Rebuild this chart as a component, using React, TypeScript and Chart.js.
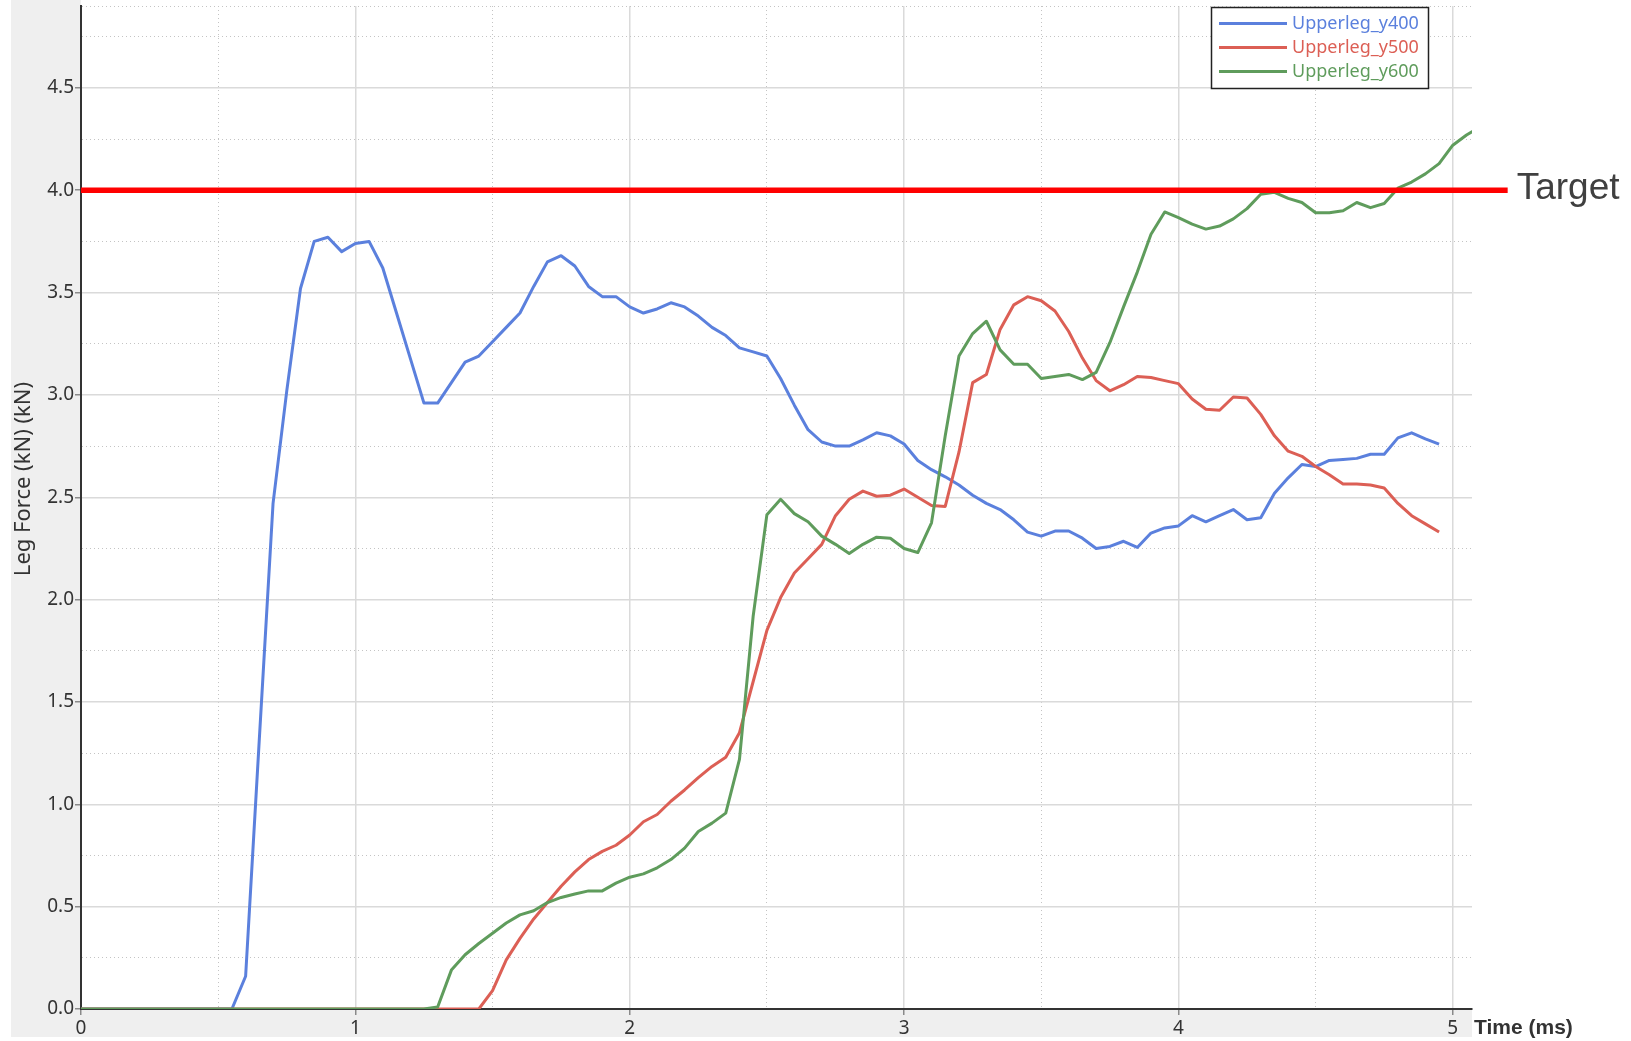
import React, { useEffect, useRef } from 'react';
import { Chart, registerables } from 'chart.js';

Chart.register(...registerables);

// ---- data -----------------------------------------------------------------
const TIME = [
  0, 0.05, 0.1, 0.15, 0.2, 0.25, 0.3, 0.35, 0.4, 0.45,
  0.5, 0.55, 0.6, 0.65, 0.7, 0.75, 0.8, 0.85, 0.9, 0.95,
  1, 1.05, 1.1, 1.15, 1.2, 1.25, 1.3, 1.35, 1.4, 1.45,
  1.5, 1.55, 1.6, 1.65, 1.7, 1.75, 1.8, 1.85, 1.9, 1.95,
  2, 2.05, 2.1, 2.15, 2.2, 2.25, 2.3, 2.35, 2.4, 2.45,
  2.5, 2.55, 2.6, 2.65, 2.7, 2.75, 2.8, 2.85, 2.9, 2.95,
  3, 3.05, 3.1, 3.15, 3.2, 3.25, 3.3, 3.35, 3.4, 3.45,
  3.5, 3.55, 3.6, 3.65, 3.7, 3.75, 3.8, 3.85, 3.9, 3.95,
  4, 4.05, 4.1, 4.15, 4.2, 4.25, 4.3, 4.35, 4.4, 4.45,
  4.5, 4.55, 4.6, 4.65, 4.7, 4.75, 4.8, 4.85, 4.9, 4.95,
  5, 5.05, 5.1,
];

const UPPERLEG_Y400 = [
  0, 0, 0, 0, 0, 0, 0, 0, 0, 0, 0, 0,
  0.16, 1.32, 2.47, 3.02, 3.52, 3.75, 3.77, 3.70, 3.74, 3.75,
  3.62, 3.40, 3.18, 2.96, 2.96, 3.06, 3.16, 3.19, 3.26, 3.33,
  3.40, 3.53, 3.65, 3.68, 3.63, 3.53, 3.48, 3.48, 3.43, 3.40,
  3.42, 3.45, 3.43, 3.385, 3.33, 3.29, 3.23, 3.21, 3.19, 3.08,
  2.95, 2.83, 2.77, 2.75, 2.75, 2.78, 2.815, 2.80, 2.76, 2.68,
  2.635, 2.60, 2.56, 2.51, 2.47, 2.44, 2.39, 2.33, 2.31, 2.335,
  2.335, 2.30, 2.25, 2.26, 2.285, 2.255, 2.325, 2.35, 2.36, 2.41,
  2.38, 2.41, 2.44, 2.39, 2.40, 2.52, 2.595, 2.66, 2.65, 2.68,
  2.685, 2.69, 2.71, 2.71, 2.79, 2.815, 2.785, 2.76,
];

const UPPERLEG_Y500 = [
  0, 0, 0, 0, 0, 0, 0, 0, 0, 0, 0, 0, 0, 0, 0,
  0, 0, 0, 0, 0, 0, 0, 0, 0, 0, 0, 0, 0, 0, 0,
  0.09, 0.24, 0.345, 0.44, 0.52, 0.60, 0.67, 0.73, 0.77, 0.80,
  0.85, 0.915, 0.95, 1.015, 1.07, 1.13, 1.185, 1.23, 1.35, 1.60,
  1.85, 2.01, 2.13, 2.20, 2.27, 2.41, 2.49, 2.53, 2.505, 2.51,
  2.54, 2.50, 2.46, 2.455, 2.72, 3.06, 3.10, 3.32, 3.44, 3.48,
  3.46, 3.41, 3.31, 3.18, 3.07, 3.02, 3.05, 3.09, 3.085, 3.07,
  3.055, 2.98, 2.93, 2.925, 2.99, 2.985, 2.905, 2.80, 2.725, 2.70,
  2.65, 2.61, 2.565, 2.565, 2.56, 2.545, 2.47, 2.41, 2.37, 2.33,
];

const UPPERLEG_Y600 = [
  0, 0, 0, 0, 0, 0, 0, 0, 0, 0, 0, 0, 0,
  0, 0, 0, 0, 0, 0, 0, 0, 0, 0, 0, 0, 0,
  0.01, 0.19, 0.265, 0.32,
  0.37, 0.42, 0.46, 0.48, 0.52, 0.545, 0.562, 0.577, 0.577, 0.615,
  0.644, 0.66, 0.69, 0.73, 0.786, 0.867, 0.908, 0.957, 1.22, 1.92,
  2.415, 2.49, 2.42, 2.38, 2.31, 2.27, 2.225, 2.27, 2.305, 2.30,
  2.25, 2.23, 2.375, 2.80, 3.19, 3.30, 3.36, 3.22, 3.15, 3.15,
  3.08, 3.09, 3.10, 3.075, 3.11, 3.255, 3.43, 3.60, 3.785, 3.894,
  3.866, 3.834, 3.81, 3.825, 3.86, 3.91, 3.98, 3.99, 3.96, 3.94,
  3.89, 3.89, 3.90, 3.94, 3.915, 3.935, 4.01, 4.04, 4.08, 4.13,
  4.22, 4.27, 4.31,
];

const TARGET_TIME = [0, 5.2];
const TARGET_FORCE = [4.0, 4.0];

const SERIES_LABELS = ['Upperleg_y400', 'Upperleg_y500', 'Upperleg_y600'];
const SERIES_COLORS = ['#5b80dd', '#dc5f55', '#5f9c5c'];
const TARGET_LABEL = 'Target';
const X_TITLE = 'Time (ms)';
const Y_TITLE = 'Leg Force (kN) (kN)';

const X_MIN = 0;
const X_MAX = 5.07;
const Y_MIN = 0;
const Y_MAX = 4.9;

// ---- helpers ---------------------------------------------------------------
const pairs = (xs: number[], ys: number[]) => ys.map((y, i) => ({ x: xs[i], y }));
const onStep = (v: number, step: number) => Math.abs(v / step - Math.round(v / step)) < 1e-6;

const FONT = '"Noto Sans", "Open Sans", sans-serif';
const ARIAL = '"Liberation Sans", Arial, sans-serif';

const backgroundPlugin = {
  id: 'panelBackground',
  beforeDraw(chart: any) {
    const { ctx, chartArea } = chart;
    const xs = chart.scales.x;
    const ys = chart.scales.y;
    ctx.save();
    ctx.fillStyle = '#ffffff';
    ctx.fillRect(0, 0, chart.width, chart.height);
    ctx.fillStyle = '#efefef';
    ctx.fillRect(ys.left, 0, xs.right - ys.left, xs.bottom);
    ctx.fillStyle = '#ffffff';
    ctx.fillRect(chartArea.left, 0, chartArea.right - chartArea.left, chartArea.bottom);
    ctx.restore();
  },
};

const labelsPlugin = {
  id: 'extraLabels',
  afterDraw(chart: any) {
    const { ctx, chartArea } = chart;
    const xs = chart.scales.x;
    const ys = chart.scales.y;
    ctx.save();

    // y-axis title
    ctx.save();
    ctx.translate(ys.left + 18.5, 479);
    ctx.rotate(-Math.PI / 2);
    ctx.font = `22px ${FONT}`;
    ctx.fillStyle = '#333333';
    ctx.textAlign = 'center';
    ctx.textBaseline = 'alphabetic';
    ctx.fillText(Y_TITLE, 0, 0);
    ctx.restore();

    // x-axis title (to the right of the axis end)
    ctx.font = `bold 21px ${ARIAL}`;
    ctx.fillStyle = '#333333';
    ctx.textAlign = 'left';
    ctx.textBaseline = 'alphabetic';
    ctx.fillText(X_TITLE, xs.right + 2, chartArea.bottom + 24.5);

    // target label
    const tx = xs.getPixelForValue(TARGET_TIME[TARGET_TIME.length - 1]);
    const ty = ys.getPixelForValue(TARGET_FORCE[TARGET_FORCE.length - 1]);
    ctx.font = `37px ${ARIAL}`;
    ctx.fillStyle = '#404040';
    ctx.fillText(TARGET_LABEL, tx + 9, ty + 8.5);

    // legend
    const series = chart.data.datasets.filter((d: any) => SERIES_LABELS.includes(d.label));
    const bx = 1211.5;
    const by = 7.5;
    const bw = 217;
    const bh = 81;
    ctx.fillStyle = '#ffffff';
    ctx.fillRect(bx, by, bw, bh);
    ctx.strokeStyle = '#222222';
    ctx.lineWidth = 1.5;
    ctx.strokeRect(bx, by, bw, bh);
    ctx.font = `18px ${FONT}`;
    series.forEach((d: any, i: number) => {
      const ly = 23.5 + i * 24;
      ctx.strokeStyle = d.borderColor;
      ctx.lineWidth = 3;
      ctx.beginPath();
      ctx.moveTo(1219, ly);
      ctx.lineTo(1287, ly);
      ctx.stroke();
      ctx.fillStyle = d.borderColor;
      ctx.textAlign = 'left';
      ctx.textBaseline = 'alphabetic';
      ctx.fillText(d.label, 1292, ly + 5.5);
    });
    ctx.restore();
  },
};

export default function App() {
  const ref = useRef<HTMLCanvasElement>(null);

  useEffect(() => {
    document.body.style.margin = '0';
    const canvas = ref.current;
    if (!canvas) return;

    const seriesValues = [UPPERLEG_Y400, UPPERLEG_Y500, UPPERLEG_Y600];
    const seriesDatasets = seriesValues.map((vals, i) => ({
      label: SERIES_LABELS[i],
      data: pairs(TIME, vals),
      borderColor: SERIES_COLORS[i],
      backgroundColor: SERIES_COLORS[i],
      borderWidth: 3,
      pointRadius: 0,
      tension: 0,
      fill: false,
      borderJoinStyle: 'round' as const,
      order: 3 - i,
    }));

    const chart = new Chart(canvas, {
      type: 'line',
      data: {
        datasets: [
          {
            label: TARGET_LABEL,
            data: pairs(TARGET_TIME, TARGET_FORCE),
            borderColor: '#ff0000',
            backgroundColor: '#ff0000',
            borderWidth: 5.5,
            pointRadius: 0,
            tension: 0,
            fill: false,
            clip: false as any,
            order: 0,
          },
          ...seriesDatasets,
        ],
      },
      options: {
        responsive: false,
        animation: false,
        devicePixelRatio: 1,
        events: [],
        layout: { padding: { left: 11, top: 6, right: 159, bottom: 4 } },
        font: { family: FONT },
        plugins: {
          legend: { display: false },
          tooltip: { enabled: false },
          title: { display: false },
        },
        scales: {
          x: {
            type: 'linear',
            min: X_MIN,
            max: X_MAX,
            bounds: 'data',
            ticks: {
              stepSize: 0.5,
              includeBounds: false,
              autoSkip: false,
              maxRotation: 0,
              padding: 2,
              color: '#333333',
              font: { size: 19, family: FONT },
              callback: (v: any) => (onStep(Number(v), 1) ? String(Math.round(Number(v))) : ''),
            },
            grid: {
              color: (c: any) => (c.tick && !onStep(c.tick.value, 1) ? '#c4c4c4' : '#dadada'),
              lineWidth: (c: any) => (c.tick && !onStep(c.tick.value, 1) ? 1 : 1.5),
              tickLength: 6,
              tickWidth: 1.5,
              tickColor: (c: any) => (c.tick && !onStep(c.tick.value, 1) ? 'rgba(0,0,0,0)' : '#8a8a8a'),
            },
            border: {
              color: '#333333',
              width: 2,
              dash: (c: any) => (c.tick && !onStep(c.tick.value, 1) ? [1, 3] : []),
            },
            afterFit: (s: any) => {
              s.height = 28;
              s.paddingLeft = 0;
              s.paddingRight = 0;
            },
          },
          y: {
            type: 'linear',
            min: Y_MIN,
            max: Y_MAX,
            bounds: 'data',
            ticks: {
              stepSize: 0.25,
              maxTicksLimit: 100,
              includeBounds: false,
              autoSkip: false,
              padding: 1,
              color: '#333333',
              font: { size: 19, family: FONT },
              callback: (v: any) => (onStep(Number(v), 0.5) ? Number(v).toFixed(1) : ''),
            },
            grid: {
              color: (c: any) => (c.tick && !onStep(c.tick.value, 0.5) ? '#c4c4c4' : '#dadada'),
              lineWidth: (c: any) => (c.tick && !onStep(c.tick.value, 0.5) ? 1 : 1.5),
              tickLength: 6,
              tickWidth: 1.5,
              tickColor: (c: any) => (c.tick && !onStep(c.tick.value, 0.5) ? 'rgba(0,0,0,0)' : '#8a8a8a'),
            },
            border: {
              color: '#333333',
              width: 2,
              dash: (c: any) => (c.tick && !onStep(c.tick.value, 0.5) ? [1, 3] : []),
            },
            afterFit: (s: any) => {
              s.width = 70;
              s.paddingTop = 0;
              s.paddingBottom = 0;
            },
          },
        },
      } as any,
      plugins: [backgroundPlugin, labelsPlugin],
    });

    return () => chart.destroy();
  }, []);

  return (
    <div style={{ position: 'fixed', left: 0, top: 0, width: 1631, height: 1041, background: '#ffffff' }}>
      <canvas ref={ref} width={1631} height={1041} style={{ display: 'block', width: 1631, height: 1041 }} />
    </div>
  );
}
